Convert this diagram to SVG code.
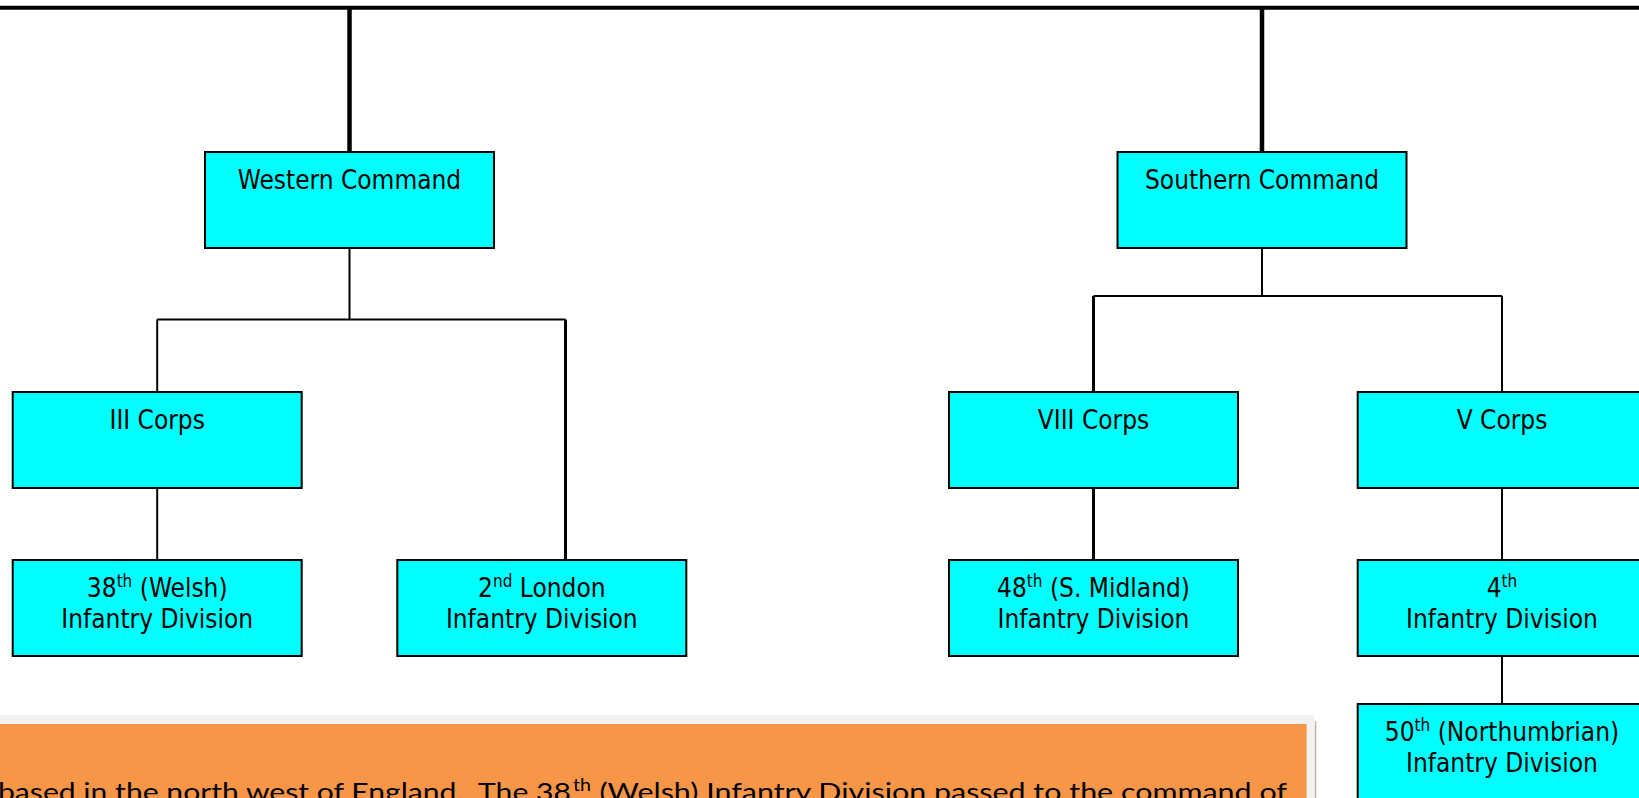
<svg xmlns="http://www.w3.org/2000/svg" width="1639" height="798" viewBox="0 0 1639 798">
<style>
.box{fill:#00FFFF;stroke:#000;stroke-width:2}
.lbl{font-family:"DejaVu Sans Condensed","DejaVu Sans",sans-serif;font-stretch:condensed;font-size:26px;fill:#000;text-anchor:middle}
.sup{font-size:17px}
.c{stroke:#000;fill:none;stroke-width:2}
.m{stroke-width:3}
.k{stroke-width:4.5}
.note{font-family:Lato,"Open Sans",sans-serif;font-size:25px;fill:#000}
</style>
<rect width="1639" height="798" fill="#fff"/>
<g id="connectors">
<path class="c" d="M0 7.7H1639" style="stroke-width:4"/>
<path class="c k" d="M349.5 7.7V152"/>
<path class="c k" d="M1262 7.7V152"/>
<path class="c" d="M349.5 248V319.5M157.2 319.5H565.5M157.2 319.5V392"/>
<path class="c m" d="M565.5 319.5V560"/>
<path class="c" d="M157.2 488V560"/>
<path class="c" d="M1262 248V296M1093.5 296H1502M1502 296V392"/>
<path class="c m" d="M1093.5 296V392M1093.5 488V560"/>
<path class="c" d="M1502 488V560M1502 656V704"/>
</g>
<g id="western"><rect class="box" x="205" y="152" width="289" height="96"/><text class="lbl" x="349.5" y="189">Western Command</text></g>
<g id="southern"><rect class="box" x="1117.5" y="152" width="289" height="96"/><text class="lbl" x="1262" y="189">Southern Command</text></g>
<g id="iii"><rect class="box" x="12.7" y="392" width="289" height="96"/><text class="lbl" x="157.2" y="429">III Corps</text></g>
<g id="viii"><rect class="box" x="949" y="392" width="289" height="96"/><text class="lbl" x="1093.5" y="429">VIII Corps</text></g>
<g id="v"><rect class="box" x="1357.7" y="392" width="289" height="96"/><text class="lbl" x="1502" y="429">V Corps</text></g>
<g id="d38"><rect class="box" x="12.7" y="560" width="289" height="96"/><text class="lbl" x="157.2" y="596.5">38<tspan class="sup" dy="-10">th</tspan><tspan dy="10"> (Welsh)</tspan></text><text class="lbl" x="157.2" y="628">Infantry Division</text></g>
<g id="d2"><rect class="box" x="397.3" y="560" width="289" height="96"/><text class="lbl" x="541.8" y="596.5">2<tspan class="sup" dy="-10">nd</tspan><tspan dy="10"> London</tspan></text><text class="lbl" x="541.8" y="628">Infantry Division</text></g>
<g id="d48"><rect class="box" x="949" y="560" width="289" height="96"/><text class="lbl" x="1093.5" y="596.5">48<tspan class="sup" dy="-10">th</tspan><tspan dy="10"> (S. Midland)</tspan></text><text class="lbl" x="1093.5" y="628">Infantry Division</text></g>
<g id="d4"><rect class="box" x="1357.7" y="560" width="289" height="96"/><text class="lbl" x="1502" y="596.5">4<tspan class="sup" dy="-10">th</tspan></text><text class="lbl" x="1502" y="628">Infantry Division</text></g>
<g id="d50"><rect class="box" x="1357.7" y="704" width="289" height="96"/><text class="lbl" x="1502" y="740.5">50<tspan class="sup" dy="-10">th</tspan><tspan dy="10"> (Northumbrian)</tspan></text><text class="lbl" x="1502" y="772">Infantry Division</text></g>
<g id="note">
<rect x="0" y="715" width="1314" height="83" fill="#F2F2F2"/>
<rect x="0" y="724" width="1306.6" height="74" fill="#F79646"/>
<path d="M1315.5 721V798" stroke="#C4AE9A" stroke-width="1.5"/>
<text class="note" x="-2" y="801" textLength="573" lengthAdjust="spacingAndGlyphs">based in the north west of England.&#160; The 38</text>
<text class="note" x="573" y="791" textLength="18" lengthAdjust="spacingAndGlyphs" style="font-size:17px">th</text>
<text class="note" x="599.5" y="801" textLength="687.5" lengthAdjust="spacingAndGlyphs">(Welsh) Infantry Division passed to the command of</text>
</g>
</svg>
